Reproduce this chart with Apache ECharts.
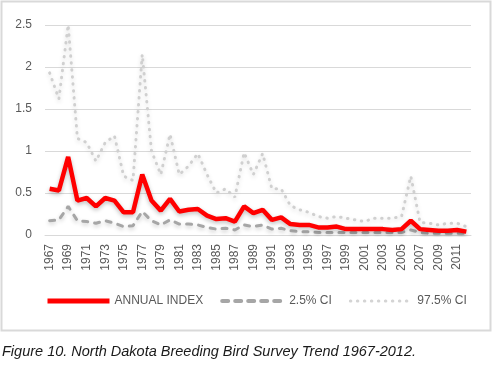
<!DOCTYPE html>
<html><head><meta charset="utf-8">
<script src="https://cdn.jsdelivr.net/npm/echarts@6/dist/echarts.min.js"></script>
<style>html,body{margin:0;padding:0;background:#fff;}#c{width:497px;height:365px;}</style>
</head><body><div id="c"></div>
<script>
const years = [];
for (let y = 1967; y <= 2012; y++) years.push(String(y));
const annualIndex = [0.55,0.53,0.93,0.41,0.44,0.34,0.44,0.41,0.27,0.27,0.72,0.41,0.29,0.43,0.28,0.30,0.31,0.23,0.19,0.20,0.16,0.34,0.26,0.30,0.18,0.21,0.13,0.12,0.12,0.09,0.09,0.10,0.07,0.07,0.07,0.07,0.07,0.06,0.07,0.17,0.07,0.06,0.05,0.05,0.06,0.04];
const ciLow = [0.17,0.18,0.34,0.17,0.16,0.14,0.17,0.14,0.10,0.11,0.28,0.17,0.12,0.18,0.13,0.13,0.12,0.09,0.07,0.08,0.06,0.12,0.10,0.12,0.07,0.08,0.05,0.04,0.04,0.03,0.03,0.03,0.03,0.03,0.03,0.03,0.03,0.03,0.03,0.06,0.03,0.02,0.02,0.02,0.02,0.02];
const ciHigh = [1.93,1.62,2.50,1.15,1.10,0.88,1.10,1.18,0.70,0.65,2.15,1.00,0.72,1.20,0.72,0.82,0.97,0.72,0.50,0.55,0.45,0.98,0.72,0.97,0.55,0.55,0.35,0.30,0.27,0.22,0.20,0.22,0.20,0.18,0.16,0.20,0.20,0.20,0.22,0.70,0.15,0.14,0.12,0.14,0.14,0.10];
const yTicks = ['0','0.5','1','1.5','2','2.5'];
const seriesNames = ['ANNUAL INDEX','2.5% CI','97.5% CI'];

const chart = echarts.init(document.getElementById('c'), null, {renderer:'canvas'});
const font = 'Liberation Sans, Arial, sans-serif';
chart.setOption({
  animation:false,
  textStyle:{fontFamily:font},
  graphic:[
    {type:'rect', shape:{x:1.5,y:1.5,width:489,height:329}, style:{fill:'none',stroke:'#d9d9d9',lineWidth:2}, z:-1},
    {type:'text', left:2, top:344, style:{text:'Figure 10. North Dakota Breeding Bird Survey Trend 1967-2012.', font:'italic 14.5px '+font, fill:'#1a1a1a'}}
  ],
  grid:{left:45,right:26,top:25,bottom:130,containLabel:false},
  legend:{
    left:45, top:295, padding:0, itemWidth:62, itemHeight:12, itemGap:17,
    itemStyle:{opacity:0},
    textStyle:{fontSize:12,color:'#595959',fontFamily:font,padding:[0,0,0,0]},
    data:[
      {name:seriesNames[0], lineStyle:{width:5, color:'#ff0000'}},
      {name:seriesNames[1], lineStyle:{width:4, color:'#a6a6a6', type:[6,7], cap:'round'}},
      {name:seriesNames[2], lineStyle:{width:3, color:'#d4d4d4', type:[0.5,6.5], cap:'round'}}
    ]
  },
  xAxis:{
    type:'category', data:years, boundaryGap:true,
    axisLine:{lineStyle:{color:'#d9d9d9',width:1}},
    axisTick:{show:false},
    axisLabel:{interval:1, rotate:90, fontSize:12, color:'#595959', margin:9, fontFamily:font}
  },
  yAxis:{
    type:'value', min:0, max:2.5, interval:0.5,
    axisLine:{show:false}, axisTick:{show:false},
    splitLine:{lineStyle:{color:'#d9d9d9',width:1}},
    axisLabel:{fontSize:12,color:'#595959',margin:13,fontFamily:font,
      formatter:v=>yTicks[Math.round(v/0.5)]}
  },
  series:[
    {name:seriesNames[2], type:'line', data:ciHigh, symbol:'none', z:2,
     lineStyle:{color:'#d0d0d0',width:3,type:[0.5,6.5],cap:'round',shadowBlur:4,shadowColor:'rgba(0,0,0,0.15)',shadowOffsetY:2},
     itemStyle:{color:'#d0d0d0'}},
    {name:seriesNames[1], type:'line', data:ciLow, symbol:'none', z:3,
     lineStyle:{color:'#a6a6a6',width:3,type:[5,7],cap:'round',shadowBlur:4,shadowColor:'rgba(0,0,0,0.2)',shadowOffsetY:2},
     itemStyle:{color:'#a6a6a6'}},
    {name:seriesNames[0], type:'line', data:annualIndex, symbol:'none', z:4,
     lineStyle:{color:'#ff0000',width:4.5,shadowBlur:4,shadowColor:'rgba(0,0,0,0.25)',shadowOffsetY:2},
     itemStyle:{color:'#ff0000'}}
  ]
});
</script></body></html>
